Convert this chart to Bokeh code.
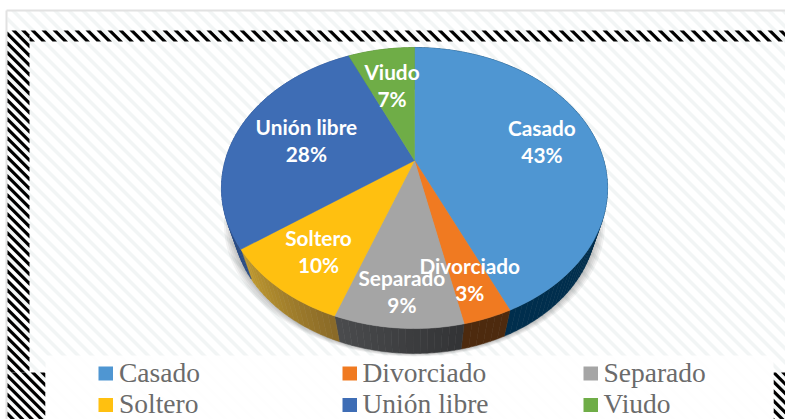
import numpy as np
from bokeh.plotting import figure
from bokeh.models import Range1d
from bokeh.embed import file_html
from bokeh.resources import INLINE
from bokeh.core.properties import value

categories = ["Casado", "Divorciado", "Separado", "Soltero", "Unión libre", "Viudo"]
percent_labels = [43, 3, 9, 10, 28, 7]
slice_share = [43.2, 3.4, 9.0, 9.5, 28.2, 6.7]
face_colors = ["#4f96d2", "#f07a21", "#a5a5a5", "#ffc010", "#3e6db5", "#6fad47"]
side_start = ["#002e4d", "#4d2a0e", "#333436", "#8a6a28", "#2b4d85", "#4a7a30"]
side_end = ["#002e4d", "#4d2a0e", "#4a4b4d", "#c09a30", "#2b4d85", "#4a7a30"]
label_radius = [0.709, 0.79, 0.812, 0.741, 0.61, 0.638]

W, H = 785, 419
p = figure(width=W, height=H, output_backend="svg", toolbar_location=None,
           x_range=Range1d(0, 785), y_range=Range1d(419, 0), min_border=0)
p.axis.visible = False
p.grid.visible = False
p.outline_line_color = None
p.background_fill_color = "white"
p.border_fill_color = "white"


def clip(poly, x0, x1, y0, y1):
    planes = [(1, 0, x0), (-1, 0, -x1), (0, 1, y0), (0, -1, -y1)]
    for a, b, c in planes:
        out = []
        for i in range(len(poly)):
            P, Q = poly[i], poly[(i + 1) % len(poly)]
            dp, dq = a * P[0] + b * P[1] - c, a * Q[0] + b * Q[1] - c
            if dp >= 0:
                out.append(P)
            if dp * dq < 0:
                t = dp / (dp - dq)
                out.append((P[0] + t * (Q[0] - P[0]), P[1] + t * (Q[1] - P[1])))
        poly = out
        if not poly:
            break
    return poly


def stripes(rect, period, width, color, alpha=1.0):
    x0, x1, y0, y1 = rect
    xs, ys = [], []
    c = x0 - y1 - period
    c -= c % period
    while c < x1 - y0 + period:
        band = [(c + y0 - 500, y0 - 500), (c + width + y0 - 500, y0 - 500),
                (c + width + y1 + 500, y1 + 500), (c + y1 + 500, y1 + 500)]
        poly = clip(band, x0, x1, y0, y1)
        if len(poly) > 2:
            xs.append([q[0] for q in poly])
            ys.append([q[1] for q in poly])
        c += period
    p.patches(xs, ys, fill_color=color, fill_alpha=alpha, line_color=None)


# page background pattern
stripes((7, 785, 10, 419), 14, 5, "#eef1f1", 0.75)
p.segment([6], [10], [785], [10], line_color="#e2e2e2", line_width=2)
p.segment([6], [10], [6], [419], line_color="#e2e2e2", line_width=2)

# hatched frame
stripes((7, 29, 30, 372), 9.5, 4.5, "#000000")
stripes((29, 785, 30, 41), 11, 4.5, "#000000")
stripes((7, 45, 372, 419), 9.5, 4.5, "#000000")
stripes((773, 785, 372, 419), 9.5, 4.5, "#000000")

# legend plate
p.quad(left=[45], right=[773], top=[355], bottom=[419], fill_color="white", fill_alpha=0.9, line_color=None)

# perspective pie
cx, cy, A, B, k = 414.0, 160.0, 135.1, 189.3, 0.196
sx, dy = 0.94, 35.0


def rim(theta, r=1.0):
    d = 1 + k * r * np.cos(theta)
    return cx + B * r * np.sin(theta) / d, cy - A * r * np.cos(theta) / d


def lower(x, y):
    return cx + (x - cx) * sx, cy + (y - cy) * sx + dy


fractions = np.array(slice_share, dtype=float) / sum(slice_share)
edges = np.concatenate([[0], np.cumsum(fractions)]) * 2 * np.pi

# soft shadow under the pie
t = np.linspace(0, 2 * np.pi, 181)
for grow in [1.05, 1.04, 1.03, 1.02, 1.01]:
    x, y = lower(*rim(t))
    p.patch(cx + (x - cx) * grow, y + (grow - 1) * 60, fill_color="black", fill_alpha=0.05, line_color=None)


def mix(a, b, f):
    ca = [int(a[i:i + 2], 16) for i in (1, 3, 5)]
    cb = [int(b[i:i + 2], 16) for i in (1, 3, 5)]
    return "#%02x%02x%02x" % tuple(int(round(u + (v - u) * f)) for u, v in zip(ca, cb))


# side wall
for i in range(len(slice_share)):
    n = max(2, int(slice_share[i] * 2))
    tt = np.linspace(edges[i], edges[i + 1], n + 1)
    for j in range(n):
        seg = np.linspace(tt[j], tt[j + 1], 4)
        x, y = rim(seg)
        lx, ly = lower(x, y)
        p.patch(np.concatenate([x, lx[::-1]]), np.concatenate([y, ly[::-1]]),
                fill_color=mix(side_start[i], side_end[i], j / max(n - 1, 1)),
                line_color=mix(side_start[i], side_end[i], j / max(n - 1, 1)), line_width=0.5)

# top faces
for i in range(len(slice_share)):
    seg = np.linspace(edges[i], edges[i + 1], max(4, int(slice_share[i] * 3)))
    x, y = rim(seg)
    p.patch(np.concatenate([[cx], x]), np.concatenate([[cy], y]), fill_color=face_colors[i],
            line_color=face_colors[i], line_width=0.5)

# slice labels
mid = (edges[:-1] + edges[1:]) / 2
lx, ly = rim(mid, np.array(label_radius))
common = dict(text_font=value("Lato"), text_font_style="bold", text_font_size="20.8px",
              text_color="white", text_align="center", text_baseline="middle")
p.text(lx, ly, text=categories, y_offset=-13.5, **common)
p.text(lx, ly, text=["%d%%" % v for v in percent_labels], y_offset=13.5, **common)

# legend
col_x = [98, 342, 583]
text_x = [118.5, 362, 603]
row_y = [373, 404.5]
for i, name in enumerate(categories):
    x = col_x[i % 3]
    y = row_y[i // 3]
    p.quad(left=[x], right=[x + 14.5], top=[y - 7], bottom=[y + 7], fill_color=face_colors[i], line_color=None)
    p.text([text_x[i % 3]], [y - 1.5], text=[name], text_font=value("Liberation Serif"), text_font_size="27.5px",
           text_color="#6b6b6b", text_align="left", text_baseline="middle")

open("out.html", "w").write(file_html(p, INLINE))
